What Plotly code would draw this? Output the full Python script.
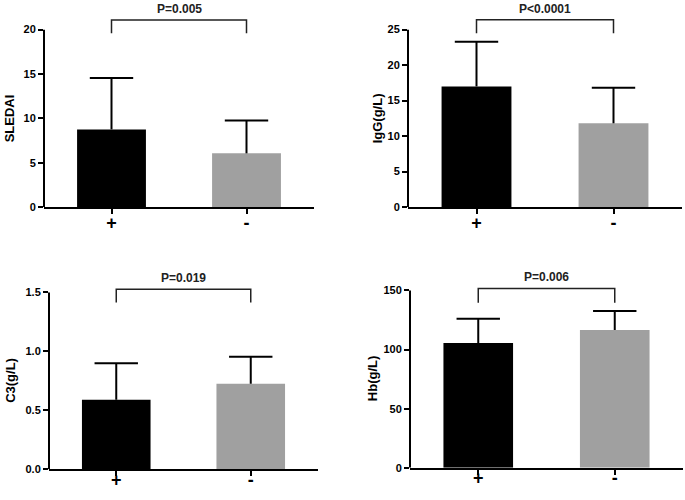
import plotly.graph_objects as go

W, H = 685, 500

# ---- data ----
groups = ["+", "-"]
sledai_mean = [8.75, 6.05]
sledai_sd = [5.8, 3.7]
igg_mean = [17.0, 11.8]
igg_sd = [6.3, 5.0]
c3_mean = [0.59, 0.725]
c3_sd = [0.31, 0.23]
hb_mean = [105.6, 116.5]
hb_sd = [20.4, 16.2]

titles = ["SLEDAI", "IgG(g/L)", "C3(g/L)", "Hb(g/L)"]
pvals = ["P=0.005", "P<0.0001", "P=0.019", "P=0.006"]
yticks = [[0, 5, 10, 15, 20], [0, 5, 10, 15, 20, 25], [0, 0.5, 1.0, 1.5], [0, 50, 100, 150]]
bracket_top = [21.1, 26.4, 1.528, 151.7]
bracket_end = [19.6, 24.5, 1.414, 139.7]

means = [sledai_mean, igg_mean, c3_mean, hb_mean]
sds = [sledai_sd, igg_sd, c3_sd, hb_sd]

# ---- layout geometry (pixels) ----
# left, right, zero_px, max_px, dom_top_px, title_x_px, ticklabel standoff
geom = [
    (44, 314, 209.5, 30, 0, 9, -7),
    (408, 682, 209.5, 30, 0, 377, -7),
    (49, 318, 475, 296, 255, 11, -12),
    (410, 683, 473.5, 294, 255, 372, -12),
]

FONT = "Arial, Liberation Sans, sans-serif"
bar_colors = ["#000000", "#a0a0a0"]

fig = go.Figure()
layout = dict(
    width=W, height=H, margin=dict(l=0, r=0, t=0, b=0),
    plot_bgcolor="white", paper_bgcolor="white", showlegend=False,
    shapes=[], annotations=[],
)

for i in range(4):
    left, right, zero_px, max_px, dom_top, tx, stand = geom[i]
    ax = "" if i == 0 else str(i + 1)
    xr, yr = "x" + ax, "y" + ax
    ymax = yticks[i][-1]
    ytop = ymax * (zero_px - dom_top) / (zero_px - max_px)

    fig.add_trace(go.Bar(
        x=[0, 1], y=means[i], width=0.51,
        marker=dict(color=bar_colors, line=dict(width=0)),
        error_y=dict(type="data", array=sds[i], arrayminus=[0, 0], symmetric=False,
                     color="black", thickness=2, width=0),
        xaxis=xr, yaxis=yr,
    ))
    # error-bar caps (top only)
    fig.add_trace(go.Scatter(
        x=[0, 1], y=[m + s for m, s in zip(means[i], sds[i])],
        mode="markers",
        marker=dict(symbol="line-ew", size=31, line=dict(color="black", width=2)),
        xaxis=xr, yaxis=yr, hoverinfo="skip",
    ))
    # significance bracket
    fig.add_trace(go.Scatter(
        x=[0, 0, 1, 1],
        y=[bracket_end[i], bracket_top[i], bracket_top[i], bracket_end[i]],
        mode="lines", line=dict(color="#222222", width=1.5),
        xaxis=xr, yaxis=yr, hoverinfo="skip",
    ))

    layout["xaxis" + ax] = dict(
        domain=[left / W, right / W], anchor=yr, range=[-0.5, 1.5],
        tickvals=[0, 1], ticktext=groups, showline=True, linecolor="black",
        linewidth=2, ticks="outside", ticklen=5, tickwidth=2, tickcolor="black",
        showgrid=False, zeroline=False, ticklabelstandoff=stand,
        tickfont=dict(family=FONT, size=18, color="black", weight="bold"),
        fixedrange=True,
    )
    fmt = ".1f" if i == 2 else "d"
    layout["yaxis" + ax] = dict(
        domain=[1 - zero_px / H, 1 - dom_top / H], anchor=xr, range=[0, ytop],
        tickvals=yticks[i], tickformat=fmt, showline=False, ticks="outside",
        ticklen=5, tickwidth=2, tickcolor="black", showgrid=False, zeroline=False,
        tickfont=dict(family=FONT, size=11, color="black", weight="bold"),
        fixedrange=True,
    )
    # y-axis line covering only 0..max
    layout["shapes"].append(dict(
        type="line", xref=xr + " domain", yref=yr, x0=0, x1=0, y0=0, y1=ymax,
        line=dict(color="black", width=2),
    ))
    # y title
    layout["annotations"].append(dict(
        text=titles[i], xref="paper", yref=yr, x=tx / W, y=ymax / 2,
        textangle=-90, showarrow=False, xanchor="center", yanchor="middle",
        font=dict(family=FONT, size=13, color="black", weight="bold"),
    ))
    # p value
    layout["annotations"].append(dict(
        text=pvals[i], xref=xr, yref=yr, x=0.5, y=bracket_top[i],
        showarrow=False, xanchor="center", yanchor="bottom", yshift=2,
        font=dict(family=FONT, size=12, color="#222222", weight="bold"),
    ))

fig.update_layout(**layout)
post = (
    "document.documentElement.style.margin='0px';"
    "document.documentElement.style.overflow='hidden';"
    "document.body.style.margin='0px';"
    "document.body.style.overflow='hidden';"
    "document.body.style.height='500px';"
)
fig.write_html("out.html", post_script=post, config={"displayModeBar": False})
